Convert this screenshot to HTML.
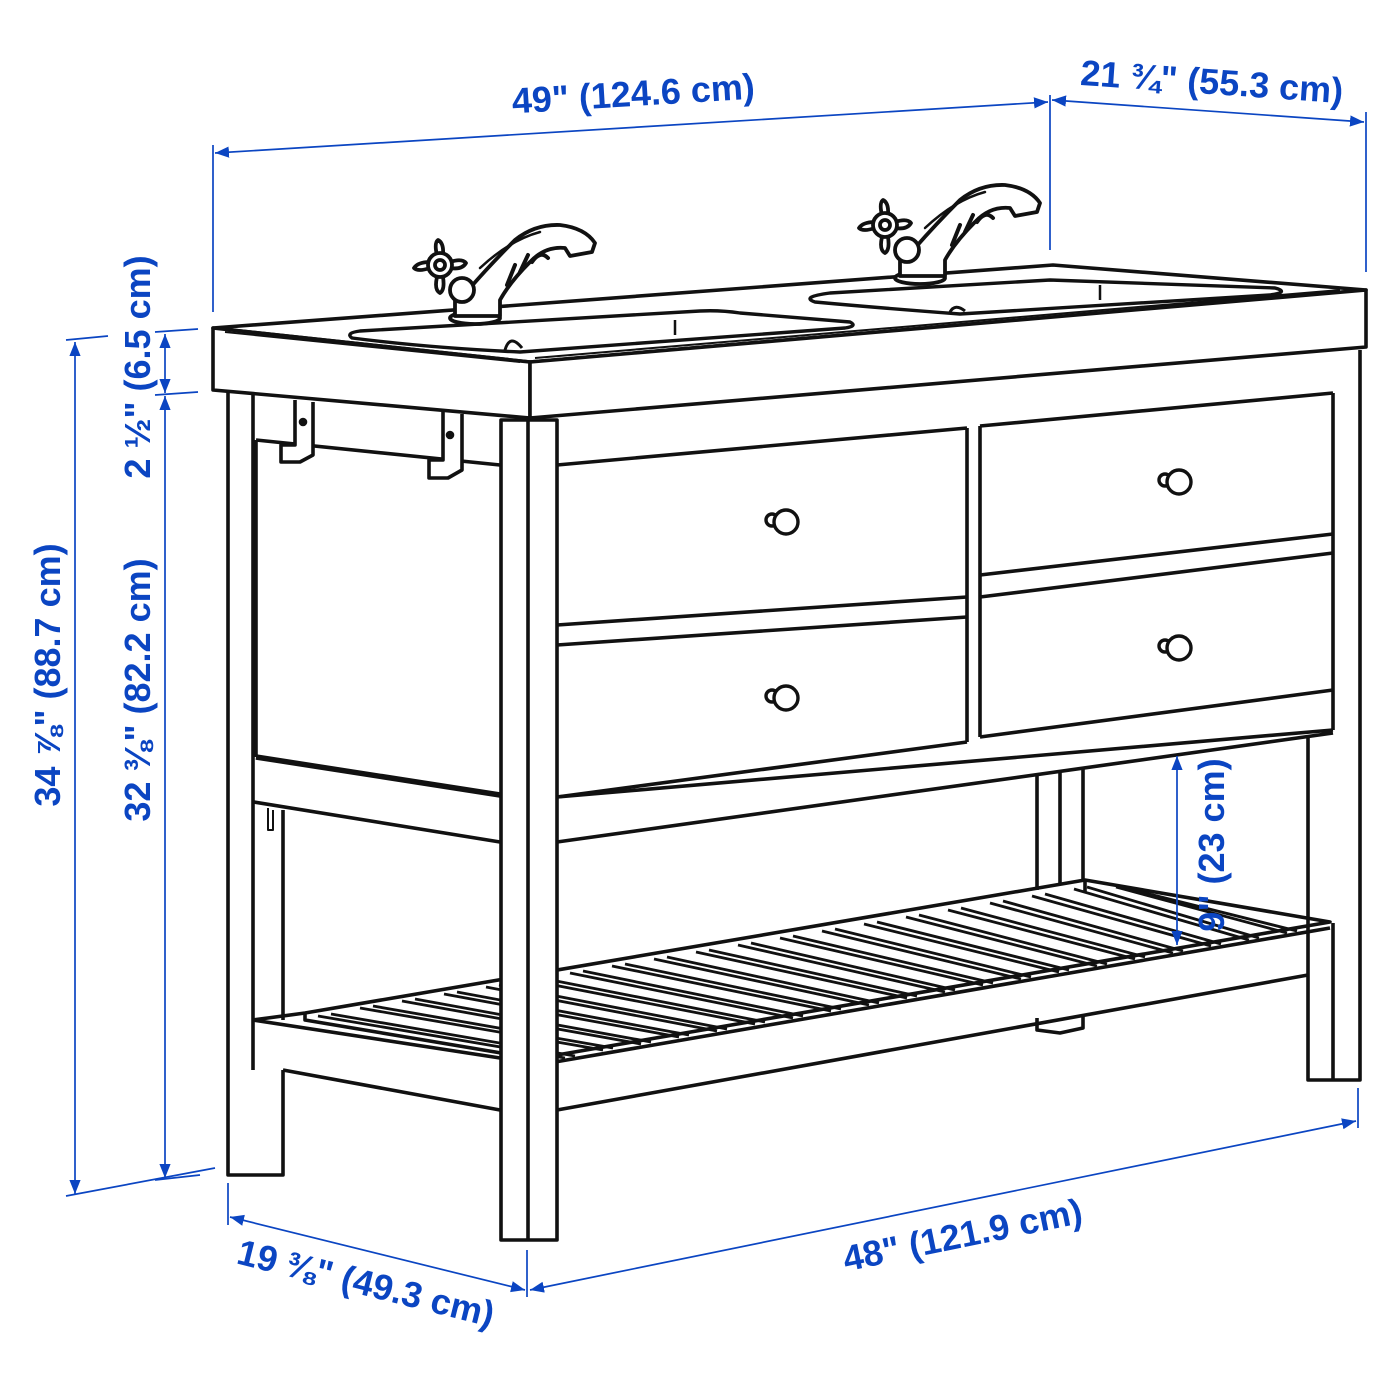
<!DOCTYPE html>
<html><head><meta charset="utf-8"><style>
html,body{margin:0;padding:0;background:#fff;}
svg{display:block;}
.t{font-family:"Liberation Sans",sans-serif;font-weight:bold;font-size:36px;fill:#0b45c2;}
</style></head><body>
<svg width="1400" height="1400" viewBox="0 0 1400 1400" xmlns="http://www.w3.org/2000/svg">
<defs>
<marker id="a" viewBox="0 0 10 10" refX="10" refY="5" markerWidth="14" markerHeight="14" markerUnits="userSpaceOnUse" orient="auto-start-reverse">
<path d="M0,1 L10,5 L0,9 z" fill="#0b45c2"/></marker>
<g id="faucet" fill="#fff" stroke="#111" stroke-width="3.8" stroke-linejoin="round" stroke-linecap="round">
<ellipse cx="475" cy="318" rx="25" ry="6"/>
<path d="M455,316 L455,300 Q462,290 470,288 Q490,265 515,240 Q535,224 560,225 Q585,228 595,243 L592,252 L570,256 L565,248 Q545,246 530,262 Q510,282 500,300 L500,316 Z"/>
<path d="M480,268 Q510,240 540,232" fill="none" stroke-width="2.5"/>
<path d="M507,285 L515,265 M520,272 L528,255 M532,262 Q540,250 548,258" fill="none" stroke-width="4"/>
<circle cx="462" cy="290" r="12"/>
<path d="M430,268 Q418,272 414,268 Q418,262 430,262 M450,262 Q462,258 466,263 Q462,270 450,268 M437,255 Q434,243 438,240 Q444,243 443,255 M437,277 Q434,290 440,293 Q445,290 443,277" />
<circle cx="440" cy="265" r="12"/>
<circle cx="440" cy="265" r="5"/>
</g>
</defs>

<g fill="none" stroke="#111" stroke-width="3.6" stroke-linejoin="round">
<path d="M228,392 L228,1175 L283,1175 L283,1070" fill="#fff"/>
<line x1="253" y1="395" x2="253" y2="1070"/>
<path d="M256,440 L500,465"/>
<path d="M256,440 L256,757"/>
<path d="M256,757 L500,795" stroke-width="5.5"/>
<path d="M254,802 L500,842"/>
<path d="M268,808 L268,830 L273,830 L273,810" stroke-width="2"/>
<line x1="283" y1="810" x2="283" y2="1020"/>
<path d="M295,400 L295,445 L281,445 L281,462 L300,462 L313,455 L313,402" fill="#fff"/>
<path d="M443,412 L443,460 L429,460 L429,478 L448,478 L462,470 L462,414" fill="#fff"/>
<circle cx="303" cy="422" r="2.5" fill="#111"/><circle cx="450" cy="435" r="2.5" fill="#111"/>

<path d="M1037,775 L1037,890 M1060,772 L1060,885 M1083,768 L1083,880"/>
<path d="M1037,1018 L1037,1030 L1060,1033 L1083,1028 L1083,1015" fill="#fff"/>

<path d="M253,1020 L500,1058 M283,1070 L500,1110"/>
<path d="M253,1020 L305,1013 L1085,880 L1330,922 L557,1055"/>
<path d="M1085,880 L1085,893 M557,1110 L1308,975"/>
<path d="M305,1013 L305,1020 L555,1062 L1330,928"/>
</g>
<g stroke="#111" stroke-width="2.8" fill="none">
<path d="M318,1016 L565,1058 M331,1014 L575,1056 M360,1008 L603,1050 M373,1006 L613,1048 M402,1001 L641,1044 M415,999 L651,1042 M444,994 L679,1037 M457,992 L689,1035 M486,987 L717,1031 M499,985 L727,1029 M528,980 L755,1024 M541,978 L765,1022 M570,973 L793,1018 M583,971 L803,1016 M612,966 L831,1011 M625,964 L841,1009 M654,959 L869,1005 M667,957 L879,1003 M696,952 L907,998 M709,950 L917,996 M738,945 L945,992 M751,943 L955,990 M780,938 L983,985 M793,936 L993,983 M822,931 L1021,979 M835,929 L1031,977 M864,924 L1059,972 M877,922 L1069,970 M906,917 L1097,966 M919,915 L1107,964 M948,910 L1135,959 M961,908 L1145,957 M990,903 L1173,953 M1003,901 L1183,951 M1032,896 L1211,946 M1045,894 L1221,944 M1074,889 L1249,940 M1087,887 L1259,938 M1116,887 L1287,933 M1129,889 L1297,931"/>
</g>
<g fill="none" stroke="#111" stroke-width="3.6" stroke-linejoin="round">
<path d="M501,420 L501,1240 L557,1240 L557,420 Z" fill="#fff"/>
<line x1="528" y1="420" x2="528" y2="1240"/>
<path d="M1333,393 L1333,730 M1308,735 L1308,1080 L1360,1080 L1360,350"/>
<line x1="1333" y1="923" x2="1333" y2="1080"/>
<path d="M557,465 L967,428 M967,428 L967,742 M980,426 L980,737 M980,426 L1333,393"/>
<path d="M557,625 L967,597 M557,645 L967,617 M557,797 L967,742"/>
<path d="M980,575 L1333,534 M980,597 L1333,553 M980,737 L1333,690"/>
<path d="M557,797 L1333,730 M557,842 L1333,733"/>
<path d="M213,328 L1053,265 L1366,290 L530,362 Z" fill="#fff"/>
<path d="M213,328 L530,362 L530,418 L213,390 Z" fill="#fff"/>
<path d="M530,362 L1366,290 L1366,347 L530,418 Z" fill="#fff"/>
<path d="M225,332 L520,362 M535,358 L1340,290" stroke-width="2"/>
<path d="M352,338 Q345,333 360,331 L700,311 Q720,310 740,313 L850,322 Q858,326 845,328 L520,352 Q430,348 352,338 Z" stroke-width="3.4"/>
<path d="M815,302 Q800,297 830,293 L1050,280 L1275,288 Q1290,292 1270,295 L960,314 Q880,308 815,302 Z" stroke-width="3.4"/>
<path d="M675,320 L675,335 M1100,285 L1100,300" stroke-width="2.5"/>
<path d="M505,350 Q510,333 522,348" stroke-width="3"/>
<path d="M950,312 Q955,303 965,311" stroke-width="3"/>
</g>
<g fill="#fff" stroke="#111" stroke-width="3.4">
<circle cx="772" cy="520" r="6"/><circle cx="786" cy="522" r="12"/>
<circle cx="772" cy="696" r="6"/><circle cx="786" cy="698" r="12"/>
<circle cx="1165" cy="480" r="6"/><circle cx="1179" cy="482" r="12"/>
<circle cx="1165" cy="646" r="6"/><circle cx="1179" cy="648" r="12"/>
</g>
<use href="#faucet"/>
<use href="#faucet" transform="translate(445,-40)"/>

<g stroke="#0b45c2" stroke-width="1.7" fill="none">
<line x1="213" y1="145" x2="213" y2="312"/>
<line x1="1050" y1="95" x2="1050" y2="250"/>
<line x1="1366" y1="112" x2="1366" y2="272"/>
<line x1="215" y1="153" x2="1048" y2="102" marker-start="url(#a)" marker-end="url(#a)"/>
<line x1="1052" y1="100" x2="1364" y2="122" marker-start="url(#a)" marker-end="url(#a)"/>
<line x1="66" y1="340" x2="108" y2="336"/>
<line x1="155" y1="332" x2="198" y2="329"/>
<line x1="155" y1="395" x2="198" y2="392"/>
<line x1="66" y1="1196" x2="215" y2="1168"/>
<line x1="155" y1="1180" x2="200" y2="1175"/>
<line x1="75" y1="342" x2="75" y2="1194" marker-start="url(#a)" marker-end="url(#a)"/>
<line x1="165" y1="334" x2="165" y2="393" marker-start="url(#a)" marker-end="url(#a)"/>
<line x1="165" y1="396" x2="165" y2="1178" marker-start="url(#a)" marker-end="url(#a)"/>
<line x1="1177" y1="756" x2="1177" y2="945" marker-start="url(#a)" marker-end="url(#a)"/>
<line x1="228" y1="1183" x2="228" y2="1225"/>
<line x1="527" y1="1250" x2="527" y2="1297"/>
<line x1="1358" y1="1088" x2="1358" y2="1128"/>
<line x1="230" y1="1217" x2="525" y2="1290" marker-start="url(#a)" marker-end="url(#a)"/>
<line x1="530" y1="1290" x2="1356" y2="1121" marker-start="url(#a)" marker-end="url(#a)"/>
</g>
<g class="t" text-anchor="middle">
<text transform="translate(634,106) rotate(-3.5)">49" (124.6 cm)</text>
<text transform="translate(1211,94) rotate(4)">21 ¾" (55.3 cm)</text>
<text transform="translate(60,675) rotate(-90)">34 ⅞" (88.7 cm)</text>
<text transform="translate(150,367) rotate(-90)">2 ½" (6.5 cm)</text>
<text transform="translate(150,690) rotate(-90)">32 ⅜" (82.2 cm)</text>
<text transform="translate(1224,845) rotate(-90)">9" (23 cm)</text>
<text transform="translate(363,1295) rotate(14)">19 ⅜" (49.3 cm)</text>
<text transform="translate(965,1247) rotate(-11.6)">48" (121.9 cm)</text>
</g>
</svg>
</body></html>
